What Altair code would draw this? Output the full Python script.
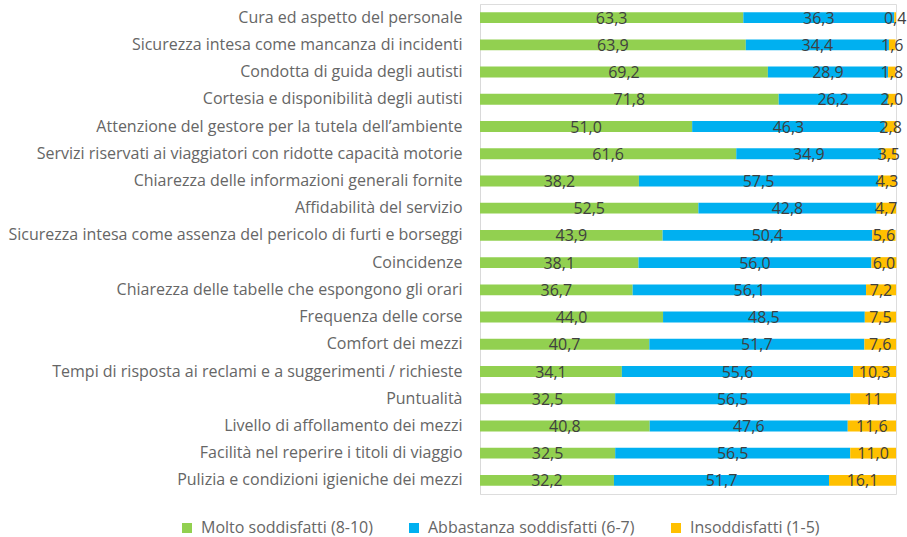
import altair as alt
import pandas as pd

categories = [
    "Cura ed aspetto del personale",
    "Sicurezza intesa come mancanza di incidenti",
    "Condotta di guida degli autisti",
    "Cortesia e disponibilità degli autisti",
    "Attenzione del gestore per la tutela dell\u2019ambiente",
    "Servizi riservati ai viaggiatori con ridotte capacità motorie",
    "Chiarezza delle informazioni generali fornite",
    "Affidabilità del servizio",
    "Sicurezza intesa come assenza del pericolo di furti e borseggi",
    "Coincidenze",
    "Chiarezza delle tabelle che espongono gli orari",
    "Frequenza delle corse",
    "Comfort dei mezzi",
    "Tempi di risposta ai reclami e a suggerimenti / richieste",
    "Puntualità",
    "Livello di affollamento dei mezzi",
    "Facilità nel reperire i titoli di viaggio",
    "Pulizia e condizioni igieniche dei mezzi",
]
series = ["Molto soddisfatti (8-10)", "Abbastanza soddisfatti (6-7)", "Insoddisfatti (1-5)"]
colors = ["#92D050", "#00B0F0", "#FFC000"]

molto = [63.3, 63.9, 69.2, 71.8, 51.0, 61.6, 38.2, 52.5, 43.9, 38.1, 36.7, 44.0, 40.7, 34.1, 32.5, 40.8, 32.5, 32.2]
abbastanza = [36.3, 34.4, 28.9, 26.2, 46.3, 34.9, 57.5, 42.8, 50.4, 56.0, 56.1, 48.5, 51.7, 55.6, 56.5, 47.6, 56.5, 51.7]
insoddisfatti = [0.4, 1.6, 1.8, 2.0, 2.8, 3.5, 4.3, 4.7, 5.6, 6.0, 7.2, 7.5, 7.6, 10.3, 11.0, 11.6, 11.0, 16.1]
insoddisfatti_labels = ["0,4", "1,6", "1,8", "2,0", "2,8", "3,5", "4,3", "4,7", "5,6", "6,0", "7,2", "7,5", "7,6",
                        "10,3", "11", "11,6", "11,0", "16,1"]

rows = []
for i, c in enumerate(categories):
    for k, (s, vals) in enumerate(zip(series, [molto, abbastanza, insoddisfatti])):
        v = vals[i]
        lab = insoddisfatti_labels[i] if k == 2 else f"{v:.1f}".replace(".", ",")
        rows.append({"cat": c, "serie": s, "ord": k, "value": v, "label": lab})
df = pd.DataFrame(rows)

FONT = "Open Sans"

base = alt.Chart(df).transform_stack(
    stack="value", groupby=["cat"], as_=["x0", "x1"], sort=[alt.SortField("ord", order="ascending")]
).transform_calculate(mid="(datum.x0 + datum.x1) / 2")

yenc = alt.Y(
    "cat:N",
    sort=categories,
    title=None,
    scale=alt.Scale(paddingInner=0.6, paddingOuter=0.3),
    axis=alt.Axis(
        domain=True, domainColor="#d9d9d9", domainWidth=1, ticks=False, grid=False,
        labelFont=FONT, labelFontSize=16, labelColor="#666666", labelPadding=18, labelLimit=480,
    ),
)

bars = base.mark_bar().encode(
    y=yenc,
    x=alt.X("x0:Q", scale=alt.Scale(domain=[0, 100], nice=False), axis=None),
    x2="x1:Q",
    color=alt.Color(
        "serie:N",
        scale=alt.Scale(domain=series, range=colors),
        legend=alt.Legend(
            title=None, orient="none", direction="horizontal", legendX=-301, legendY=516,
            symbolType="square", symbolSize=100, symbolStrokeWidth=0, labelFont=FONT,
            labelFontSize=16, labelColor="#666666", columnPadding=33, symbolOffset=0, labelOffset=6,
            labelLimit=400,
        ),
    ),
    order=alt.Order("ord:Q"),
)

text = base.mark_text(font=FONT, fontSize=16, color="#404040", baseline="middle", dy=1).encode(
    y=alt.Y("cat:N", sort=categories),
    x=alt.X("mid:Q"),
    text="label:N",
)

chart = (bars + text).properties(
    width=416, height=490,
    autosize=alt.AutoSizeParams(type="none"),
    padding={"left": 480, "top": 4, "right": 11, "bottom": 43},
).configure_view(stroke=None).configure(background="white")

chart.save("out.html", embed_options={"renderer": "svg", "actions": False})
